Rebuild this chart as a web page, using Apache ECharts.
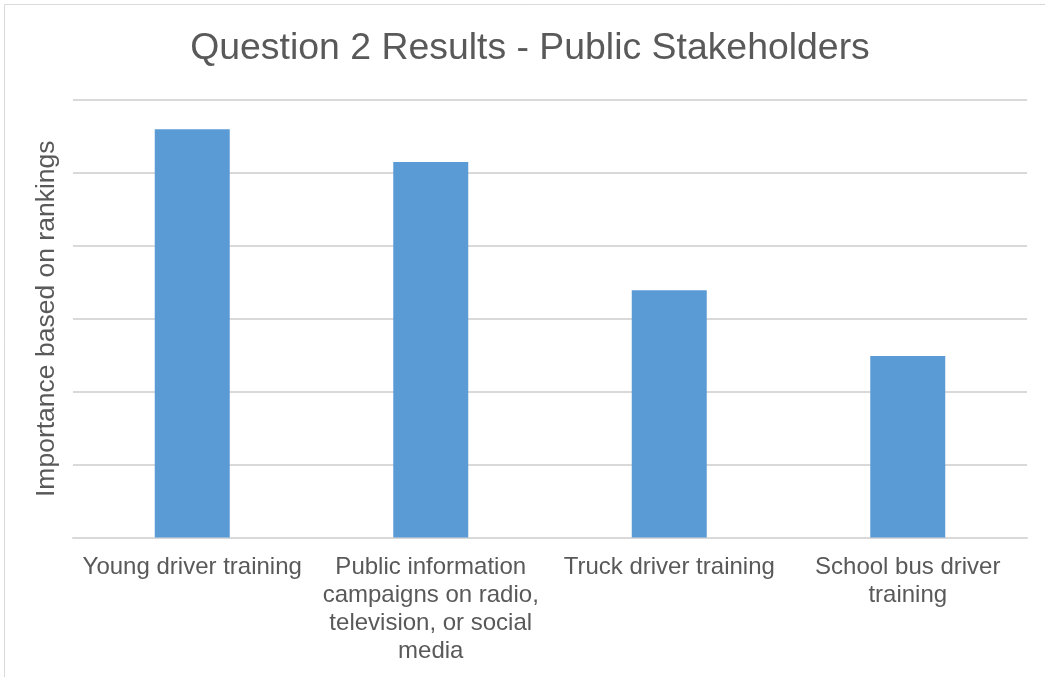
<!DOCTYPE html>
<html>
<head>
<meta charset="utf-8">
<script src="https://cdn.jsdelivr.net/npm/echarts@6/dist/echarts.min.js"></script>
<style>
  html, body { margin: 0; padding: 0; background: #fff; }
  #chart { width: 1045px; height: 677px; }
</style>
</head>
<body>
<div id="chart"></div>
<script>
// Survey categories (line breaks follow the wrapped axis labels)
const categories = [
  'Young driver training',
  'Public information\ncampaigns on radio,\ntelevision, or social\nmedia',
  'Truck driver training',
  'School bus driver\ntraining'
];
// Relative importance derived from rankings
const importance = [5.6, 5.15, 3.39, 2.49];

const titleText = 'Question 2 Results - Public Stakeholders';
const yAxisName = 'Importance based on rankings';

const font = '"Liberation Sans", Arial, sans-serif';
const textColor = '#595959';
const gridColor = '#d9d9d9';

const chart = echarts.init(document.getElementById('chart'), null, { renderer: 'canvas' });
chart.setOption({
  animation: false,
  backgroundColor: '#ffffff',
  title: {
    text: titleText,
    left: 525,
    top: 25,
    textAlign: 'center',
    textStyle: { fontFamily: font, fontSize: 37.4, fontWeight: 'normal', color: textColor }
  },
  grid: { left: 73, right: 18, top: 100, bottom: 139.5 },
  xAxis: {
    type: 'category',
    data: categories,
    axisLine: { lineStyle: { color: gridColor, width: 2 } },
    axisTick: { show: false },
    axisLabel: {
      interval: 0,
      margin: 16,
      fontFamily: font,
      fontSize: 24,
      lineHeight: 28,
      color: textColor,
      align: 'center'
    }
  },
  yAxis: {
    type: 'value',
    min: 0,
    max: 6,
    interval: 1,
    name: yAxisName,
    nameLocation: 'middle',
    nameRotate: 90,
    nameGap: 13,
    nameTextStyle: { fontFamily: font, fontSize: 26.5, color: textColor },
    axisLabel: { show: false },
    axisLine: { show: false },
    axisTick: { show: false },
    splitLine: { lineStyle: { color: gridColor, width: 2 } }
  },
  series: [{
    type: 'bar',
    data: importance,
    barWidth: 75,
    itemStyle: { color: '#5b9bd5' }
  }],
  graphic: [{
    type: 'rect',
    shape: { x: 4.5, y: 4.5, width: 1100, height: 700 },
    style: { fill: 'none', stroke: '#d9d9d9', lineWidth: 1 },
    silent: true
  }]
});
</script>
</body>
</html>
